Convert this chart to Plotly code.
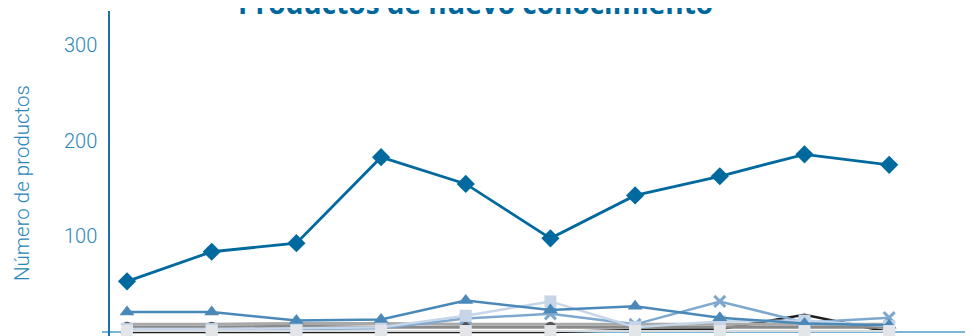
import plotly.graph_objects as go

# Data (10 consecutive periods; x tick labels are cut off in the reference)
periodos = [1, 2, 3, 4, 5, 6, 7, 8, 9, 10]
serie_rombos = [53, 84, 93, 183, 155, 98, 143, 163, 186, 175]
serie_triangulos = [21, 21, 12, 13, 33, 23, 27, 15, 9, 7]
serie_cruces = [3, 3, 3, 4, 14, 19, 8, 32, 10, 15]
serie_cuadros_azules = [3, 3, 4, 5, 17, 32, 5, 11, 12, 6]
serie_negra = [0, 0, 0, 0, 0, 0, 2, 3, 18, 0]
serie_gris_clara = [8, 8, 9, 9, 8, 8, 8, 8, 8, 8]
serie_circulos = [5, 5, 6, 5, 5, 5, 5, 5, 5, 5]
serie_cuadros_grises = [1, 1, 1, 1, 1, 1, 1, 1, 1, 1]
y_ticks = [0, 100, 200, 300]

titulo = "Productos de nuevo conocimiento"
titulo_y = "Número de productos"

fig = go.Figure()

def add(y, color, symbol=None, size=0, mcolor=None, lw=2.5, mline=0):
    fig.add_trace(go.Scatter(
        x=periodos, y=y, mode="lines+markers" if symbol else "lines",
        line=dict(color=color, width=lw),
        marker=dict(symbol=symbol or "circle", size=size, color=mcolor or color,
                    line=dict(width=mline, color=mcolor or color)),
        cliponaxis=False, showlegend=False, hoverinfo="skip"))

add(serie_negra, "#1e1e1e", lw=2.5)
add(serie_gris_clara, "#a9a9a9", lw=3)
add(serie_circulos, "#8a8a8a", symbol="circle", size=11, mcolor="#555555", lw=3)
add(serie_cruces, "#7fa8cf", symbol="x-thin", size=11, lw=2.5, mline=3)
add(serie_cuadros_azules, "#c6d5e8", symbol="square", size=12, lw=2.5)
add(serie_triangulos, "#4a88b8", symbol="triangle-up", size=13, lw=2.5)
add(serie_cuadros_grises, "#d9dadd", symbol="square", size=12, mcolor="#e4e5e9", lw=2)
add(serie_rombos, "#006a9e", symbol="diamond", size=14, lw=2.8)

fig.add_shape(type="line", xref="paper", yref="y", x0=-0.0093, x1=1, y0=0, y1=0,
              line=dict(color="#7db5d6", width=2), layer="below")

fig.add_annotation(text="<b>" + titulo + "</b>", xref="paper", yref="paper",
                   x=0.424, y=1.025, xanchor="center", yanchor="middle", showarrow=False,
                   font=dict(family="Open Sans", size=28, color="#00679d"))
fig.add_annotation(text=titulo_y, xref="paper", yref="paper", x=-0.102, y=0.4708,
                   xanchor="center", yanchor="middle", textangle=-90, showarrow=False,
                   font=dict(family="Roboto", size=20.5, color="#2a86b9", weight=300))

fig.update_layout(
    width=965, height=328,
    margin=dict(l=102, r=0, t=3, b=0),
    paper_bgcolor="white", plot_bgcolor="white",
    xaxis=dict(range=[0.799, 10.99], showticklabels=False, showgrid=False,
               zeroline=False, showline=False, ticks=""),
    yaxis=dict(range=[-4.2, 336], tickvals=y_ticks, showgrid=False, zeroline=False,
               showline=True, linecolor="#1f6fa3", linewidth=1.5, ticks="",
               ticklabelstandoff=7,
               tickfont=dict(family="Roboto", size=20, color="#2a86b9", weight=300)),
)

fig.write_html("out.html")
